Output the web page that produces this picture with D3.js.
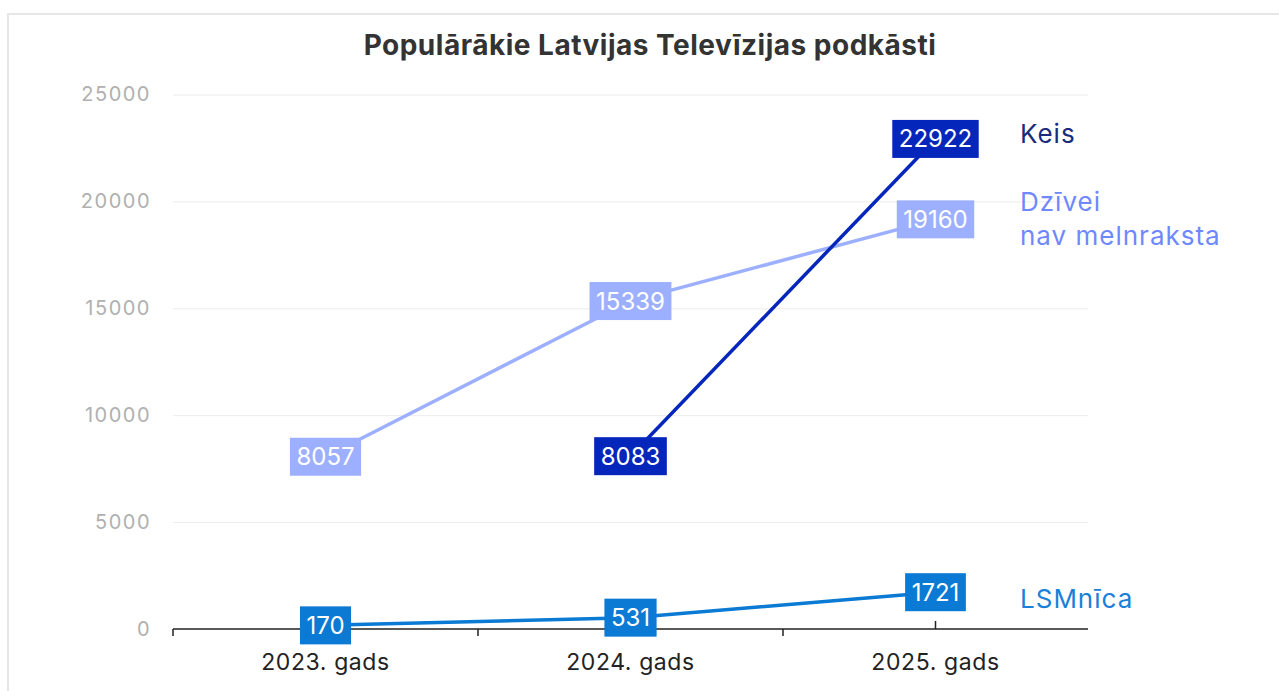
<!DOCTYPE html>
<html><head><meta charset="utf-8">
<script src="https://cdn.jsdelivr.net/npm/d3@7"></script>
<style>
html,body{margin:0;padding:0;background:#fff;}
svg{display:block;font-family:Inter,"Noto Sans",sans-serif;}
</style></head>
<body>
<svg id="chart" width="1279" height="691"></svg>
<script>
const title = "Populārākie Latvijas Televīzijas podkāsti";
const years = ["2023. gads", "2024. gads", "2025. gads"];
const yTicks = [0, 5000, 10000, 15000, 20000, 25000];
const keisValues = [null, 8083, 22922];
const dziveiValues = [8057, 15339, 19160];
const lsmnicaValues = [170, 531, 1721];
const seriesNames = ["Keis", "Dzīvei\nnav melnraksta", "LSMnīca"];

const series = [
  {name: seriesNames[1], values: dziveiValues, color: "#9db0ff", label: "#6f88ff", dy: 0},
  {name: seriesNames[0], values: keisValues, color: "#0526bb", label: "#1b2b7c", dy: -5},
  {name: seriesNames[2], values: lsmnicaValues, color: "#0a7ad4", label: "#1a80d8", dy: 7}
];

const svg = d3.select("#chart");
// frame
svg.append("rect").attr("x", 8).attr("y", 14).attr("width", 1290).attr("height", 700)
  .attr("fill", "none").attr("stroke", "#e6e6e6").attr("stroke-width", 2);

const x = d3.scaleBand().domain(years).range([173, 1088]);
const y = d3.scaleLinear().domain([0, 25000]).range([629, 94.5]);

svg.append("text").attr("x", 650).attr("y", 55).attr("text-anchor", "middle")
  .attr("font-size", 28).attr("font-weight", 700).attr("letter-spacing", 0.5)
  .attr("fill", "#333").text(title);

// grid
const yAxis = svg.append("g").attr("transform", "translate(173,0)")
  .call(d3.axisLeft(y).tickValues(yTicks).tickSize(-915).tickFormat(d3.format("d")).tickPadding(22));
yAxis.select(".domain").remove();
yAxis.selectAll(".tick line").attr("stroke", "#ececec").attr("stroke-width", 1);
yAxis.selectAll(".tick text").attr("fill", "#b0b0b0").attr("font-size", 20)
  .attr("letter-spacing", 1.5).attr("font-family", "Inter,sans-serif");
yAxis.selectAll(".tick").filter(d => d === 0).select("line").remove();

// x axis
const xg = svg.append("g").attr("transform", "translate(0,629)");
xg.append("line").attr("x1", x.range()[0]).attr("x2", x.range()[1]).attr("stroke", "#222").attr("stroke-width", 1.5);
const bounds = years.map(d => x(d));
xg.selectAll("line.tk").data(bounds).join("line").attr("class", "tk")
  .attr("x1", d => d).attr("x2", d => d).attr("y1", 0).attr("y2", 7).attr("stroke", "#222").attr("stroke-width", 1.5);
xg.append("line").attr("x1", x(years[2]) + x.bandwidth() / 2).attr("x2", x(years[2]) + x.bandwidth() / 2)
  .attr("y1", 0).attr("y2", -8).attr("stroke", "#222").attr("stroke-width", 1.5);
xg.selectAll("text").data(years).join("text")
  .attr("x", d => x(d) + x.bandwidth() / 2).attr("y", 41).attr("text-anchor", "middle")
  .attr("font-size", 23).attr("letter-spacing", 0.6).attr("fill", "#222").text(d => d);

const cx = d => x(d) + x.bandwidth() / 2;
const line = d3.line().defined(d => d.v != null).x(d => cx(d.year)).y(d => y(d.v));

series.forEach(s => {
  const pts = years.map((yr, i) => ({year: yr, v: s.values[i]}));
  svg.append("path").datum(pts).attr("d", line).attr("fill", "none")
    .attr("stroke", s.color).attr("stroke-width", 3.5);
});

series.forEach(s => {
  const pts = years.map((yr, i) => ({year: yr, v: s.values[i]})).filter(d => d.v != null);
  const g = svg.append("g");
  pts.forEach(p => {
    const t = g.append("text").attr("x", cx(p.year)).attr("y", y(p.v) + 8.5)
      .attr("text-anchor", "middle").attr("font-size", 24).attr("fill", "#fff").text(p.v);
    const w = t.node().getComputedTextLength() + 13;
    g.insert("rect", "text").attr("x", cx(p.year) - w / 2).attr("y", y(p.v) - 19)
      .attr("width", w).attr("height", 38).attr("fill", s.color);
  });
  const last = pts[pts.length - 1];
  const lines = s.name.split("\n");
  const t = svg.append("text").attr("x", 1020).attr("font-size", 26)
    .attr("letter-spacing", 1).attr("fill", s.label);
  const y0 = y(last.v) + s.dy + 9 - (lines.length - 1) * 17;
  lines.forEach((l, i) => t.append("tspan").attr("x", 1020).attr("y", y0 + i * 34).text(l));
});
</script>
</body></html>
